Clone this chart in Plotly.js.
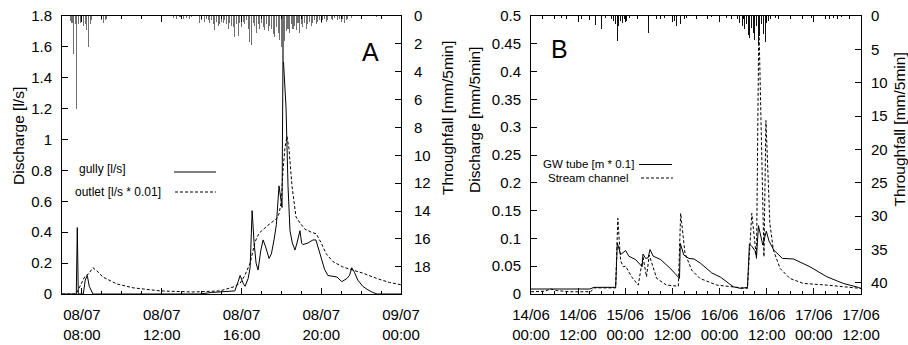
<!DOCTYPE html>
<html>
<head>
<meta charset="utf-8">
<script src="https://cdn.plot.ly/plotly-3.0.1.min.js"></script>
<style>html,body{margin:0;padding:0;background:#fff;}#chart{width:908px;height:345px;}</style>
</head>
<body>
<div id="chart"></div>
<script>
// ---------- Panel A (08/07 – 09/07) ----------
const aGullyTime = ["07:00","07:43","07:46","07:49","08:04","08:10","08:16","08:22","08:33","13:55","14:30","15:00","15:20","15:40","15:50","15:56","16:05","16:11","16:20","16:26","16:29","16:32","16:38","16:44","16:50","16:58","17:05","17:12","17:23","17:30","17:38","17:45","17:53","17:57","18:02","18:05","18:09","18:14","18:20","18:26","18:33","18:41","18:47","18:56","19:01","19:05","19:20","19:35","19:44","19:53","20:02","20:10","20:20","20:35","20:47","21:02","21:17","21:25","21:32","21:40","21:50","22:05","22:18","22:35","22:48","24:00"];
const aGullyQ = [0,0,0.43,0,0,0.09,0.12,0.05,0,0,0.01,0.015,0.02,0.02,0.08,0.12,0.07,0.05,0.10,0.17,0.35,0.54,0.33,0.20,0.155,0.28,0.35,0.31,0.23,0.26,0.35,0.45,0.70,0.62,0.56,1.56,1.40,1.21,0.70,0.41,0.33,0.285,0.33,0.41,0.33,0.32,0.33,0.35,0.35,0.28,0.22,0.16,0.12,0.115,0.11,0.08,0.10,0.12,0.17,0.14,0.09,0.05,0.03,0.01,0,0];

const aOutletTime = ["07:00","07:36","07:45","07:54","08:09","08:20","08:33","08:45","09:03","09:45","10:34","11:55","13:34","14:55","15:35","15:56","16:10","16:26","16:40","16:47","16:56","17:17","17:35","17:47","17:53","18:00","18:05","18:11","18:17","18:23","18:32","18:44","18:56","19:11","19:30","19:45","20:00","20:15","20:35","21:05","21:35","22:05","22:48","23:25","24:00"];
const aOutletQ = [0,0,0.01,0.05,0.115,0.13,0.17,0.15,0.11,0.065,0.04,0.02,0.013,0.02,0.045,0.07,0.12,0.20,0.33,0.37,0.40,0.44,0.47,0.49,0.52,0.60,0.80,0.95,1.02,0.94,0.70,0.50,0.46,0.42,0.40,0.39,0.33,0.26,0.21,0.175,0.155,0.135,0.10,0.075,0.06];

const aRainTime = ["07:25","07:30","07:35","07:40","07:45","07:50","07:55","08:00","08:05","08:10","08:15","08:20","08:25","08:30",
  "09:00","09:05","09:10","09:15","10:00","11:00","12:00","12:35","12:45","12:55","13:05","13:15","13:25","13:30",
  "13:55","14:00","14:10","14:15","14:20","14:25","14:30","14:35","14:40","14:45","14:50","14:55","15:00","15:05","15:10","15:15","15:20","15:25","15:30",
  "15:35","15:40","15:45","15:50","15:55","16:00","16:05","16:10","16:15","16:20","16:25","16:30","16:35",
  "16:40","16:45","16:50","16:55","17:00","17:05","17:10","17:15","17:20","17:25","17:30","17:35","17:40","17:45","17:50",
  "17:55","18:00","18:05","18:10","18:15","18:20","18:25","18:30","18:35","18:40","18:45","18:50","18:55","19:00","19:05","19:10","19:15","19:20","19:25","19:30","19:35","19:40","19:45","19:50","19:55",
  "20:00","20:05","20:10","20:15","20:20","20:30","20:35","20:40","20:50","20:55","21:00","21:05","21:10","21:15","21:20","21:30","22:00","22:45"];
const aRainMm = [0.35,0.5,2.7,0.6,6.7,0.6,0.5,0.3,0.7,0.6,1.0,2.2,0.6,0.3,
  0.3,0.5,0.3,0.2,0.2,0.15,0.3,0.15,0.2,0.1,0.25,0.15,0.2,0.1,
  0.5,0.3,0.4,0.2,0.3,0.5,0.3,0.6,1.0,0.4,0.7,0.6,0.4,0.5,0.3,0.6,0.9,0.5,0.7,
  0.8,1.5,0.6,1.4,0.5,0.8,0.4,0.6,0.3,0.9,1.9,2.1,0.5,
  0.7,1.2,0.6,0.9,0.5,0.8,1.0,0.6,1.1,0.7,0.9,1.3,1.5,0.8,1.2,
  1.7,2.2,3.3,1.8,1.1,0.9,1.2,0.6,0.9,0.7,1.0,0.5,1.2,0.6,0.8,0.5,0.9,0.6,0.4,0.7,0.5,0.3,0.6,0.4,0.3,
  0.5,0.3,0.2,0.4,0.3,0.2,0.3,0.15,0.3,0.2,0.4,0.2,0.5,0.3,0.2,0.15,0.1,0.1];

// ---------- Panel B (14/06 – 17/06) ----------
const bGwTime = ["14 00:00","14 15:00","14 16:00","14 21:33","14 21:58","14 22:48","15 00:06","15 00:54","15 02:36","15 04:18","15 04:30","15 05:12","15 05:48","15 06:18","15 07:06","15 09:00","15 11:36","15 13:48","15 14:00","15 14:54","15 16:12","15 17:30","15 19:12","15 22:00","16 00:18","16 03:30","16 05:24","16 07:06","16 07:36","16 08:18","16 09:00","16 09:24","16 09:54","16 10:30","16 11:00","16 11:54","16 12:36","16 13:48","16 16:00","16 18:48","16 23:00","17 03:18","17 07:30","17 11:18","17 12:00"];
const bGwVal = [0.009,0.009,0.012,0.012,0.092,0.071,0.078,0.068,0.062,0.049,0.072,0.064,0.065,0.080,0.068,0.062,0.045,0.028,0.091,0.070,0.064,0.063,0.055,0.038,0.030,0.013,0.010,0.012,0.090,0.085,0.078,0.067,0.123,0.100,0.088,0.113,0.095,0.079,0.064,0.063,0.049,0.031,0.019,0.012,0.010];

const bStreamTime = ["14 00:00","14 03:30","14 05:00","14 06:42","14 10:00","14 15:12","14 16:00","14 21:33","14 22:06","14 22:48","14 23:30","15 00:06","15 01:36","15 03:18","15 04:30","15 05:24","15 06:06","15 08:00","15 10:30","15 13:30","15 14:06","15 15:12","15 16:54","15 19:00","15 23:18","16 05:12","16 07:06","16 08:12","16 08:48","16 09:24","16 10:00","16 10:36","16 11:18","16 11:48","16 12:48","16 13:42","16 15:24","16 17:54","16 21:18","17 03:18","17 12:00"];
const bStreamVal = [0.004,0.005,0.009,0.006,0.004,0.004,0.011,0.011,0.136,0.060,0.049,0.050,0.031,0.016,0.067,0.031,0.070,0.028,0.016,0.014,0.145,0.073,0.043,0.028,0.016,0.012,0.010,0.145,0.105,0.064,0.490,0.300,0.067,0.312,0.127,0.079,0.046,0.028,0.019,0.016,0.010];

const bRainTime = ["14 04:05","14 07:50","14 12:50","14 13:30","14 14:30","14 15:00","14 16:20","14 17:55","14 19:00","14 20:30","14 21:00","14 21:30","14 21:55","14 22:20","14 22:50","14 23:20","14 23:50","15 00:20","15 01:00","15 04:00","15 05:55","15 07:50","15 10:00","15 12:35","15 13:00","15 13:25","15 13:40","15 14:05","15 15:30","15 18:30","15 22:00","16 01:40","16 04:30","16 05:10","16 05:50","16 06:20","16 06:50","16 07:20","16 07:40","16 08:10","16 08:35","16 09:00","16 09:25","16 09:50","16 10:10","16 10:40","16 11:10","16 11:35","16 12:00","16 12:30","16 13:00","16 14:20","16 18:00","16 23:30","17 02:50","17 04:00","17 05:00","17 07:00"];
const bRainMm = [2.5,0.3,0.5,0.8,1.3,0.6,1.3,2.0,0.3,0.5,0.8,1.2,3.7,1.5,0.8,1.0,0.5,0.7,0.3,3.8,2.5,0.4,0.3,0.8,1.5,2.9,2.2,1.2,0.3,0.2,0.2,0.3,0.5,1.0,1.5,2.0,1.2,2.8,3.3,1.8,2.5,3.6,1.5,4.4,3.0,1.2,2.7,3.9,1.0,0.8,0.5,0.3,0.3,0.3,0.4,0.5,0.3,0.2];

const dA = t => t === "24:00" ? "2007-07-09 00:00" : "2007-07-08 " + t;
const dB = t => "2007-06-" + t;

const FONT = "Liberation Sans, Arial, Helvetica, sans-serif";
const W = 908, H = 345;
const px = x => x / W;
const py = y => (H - y) / H;

const traces = [
  {type:"bar", x:aRainTime.map(dA), y:aRainMm, xaxis:"x", yaxis:"y2",
   width:190000, marker:{color:"#6f6f6f", line:{width:0}}},
  {type:"scatter", mode:"lines", x:aGullyTime.map(dA), y:aGullyQ, xaxis:"x", yaxis:"y",
   line:{color:"#000", width:1}},
  {type:"scatter", mode:"lines", x:aOutletTime.map(dA), y:aOutletQ, xaxis:"x", yaxis:"y",
   line:{color:"#000", width:1, dash:"3px,2px"}},
  {type:"bar", x:bRainTime.map(dB), y:bRainMm, xaxis:"x2", yaxis:"y4",
   width:800000, marker:{color:"#111", line:{width:0}}},
  {type:"scatter", mode:"lines", x:bGwTime.map(dB), y:bGwVal, xaxis:"x2", yaxis:"y3",
   line:{color:"#000", width:1}},
  {type:"scatter", mode:"lines", x:bStreamTime.map(dB), y:bStreamVal, xaxis:"x2", yaxis:"y3",
   line:{color:"#000", width:1, dash:"3px,2px"}}
];

const yDom = [py(294), py(16)];
const common = {showgrid:false, zeroline:false, showline:true, linecolor:"#000", linewidth:1,
  ticks:"inside", ticklen:6, tickwidth:1, tickcolor:"#000",
  tickfont:{family:FONT, size:15, color:"#000"}};

function ann(text, x, y, size, angle) {
  return {text:text, x:px(x), y:py(y), xref:"paper", yref:"paper", xanchor:"center", yanchor:"middle",
    textangle:angle || 0, showarrow:false, font:{family:FONT, size:size, color:"#000"}};
}

const layout = {
  width:W, height:H, margin:{l:0,r:0,t:0,b:0,pad:0},
  paper_bgcolor:"#fff", plot_bgcolor:"rgba(0,0,0,0)",
  showlegend:false, bargap:0,
  font:{family:FONT, size:15, color:"#000"},
  xaxis: Object.assign({}, common, {domain:[px(62), px(401)], anchor:"y", type:"date",
    range:["2007-07-08 07:00","2007-07-09 00:00"], tick0:"2007-07-08 08:00", dtick:14400000,
    tickformat:"%d/%m<br>%H:%M", mirror:"ticks", ticklabelstandoff:7,
    minor:{dtick:3600000, tick0:"2007-07-08 08:00", ticks:"inside", ticklen:3, tickcolor:"#000", showgrid:false}}),
  yaxis: Object.assign({}, common, {domain:yDom, anchor:"x", range:[0,1.8], dtick:0.2, mirror:true, ticklabelstandoff:6}),
  yaxis2: Object.assign({}, common, {overlaying:"y", side:"right", anchor:"x", range:[19.95,0], dtick:2, ticklabelstandoff:9}),
  xaxis2: Object.assign({}, common, {domain:[px(531), px(861)], anchor:"y3", type:"date",
    range:["2007-06-14 00:00","2007-06-17 12:00"], tick0:"2007-06-14 00:00", dtick:43200000,
    tickformat:"%d/%m<br>%H:%M", mirror:"ticks", ticklabelstandoff:7,
    minor:{dtick:10800000, tick0:"2007-06-14 00:00", ticks:"inside", ticklen:3, tickcolor:"#000", showgrid:false}}),
  yaxis3: Object.assign({}, common, {domain:yDom, anchor:"x2", range:[0,0.5], dtick:0.05, mirror:true, ticklabelstandoff:6}),
  yaxis4: Object.assign({}, common, {overlaying:"y3", side:"right", anchor:"x2", range:[41.7,0], dtick:5, ticklabelstandoff:6}),
  annotations:[
    ann("Discharge [l/s]", 18, 136, 15.5, -90),
    ann("Throughfall [mm/5min]", 447, 118, 15.5, -90),
    ann("Discharge [mm/5min]", 474, 120, 15.5, -90),
    ann("Throughfall [mm/5min]", 898.5, 130, 15.5, -90),
    ann("A", 370, 52, 25),
    ann("B", 559, 49, 25),
    ann("gully [l/s]", 102.5, 169, 12),
    ann("outlet [l/s * 0.01]", 118.5, 192, 12),
    ann("GW tube [m * 0.1]", 588.5, 164, 11.5),
    ann("Stream channel", 588, 178, 11.5)
  ],
  shapes:[
    {type:"line", xref:"paper", yref:"paper", x0:px(174), x1:px(216), y0:py(172), y1:py(172), line:{color:"#000", width:1}},
    {type:"line", xref:"paper", yref:"paper", x0:px(175), x1:px(216), y0:py(192), y1:py(192), line:{color:"#000", width:1, dash:"3px,2px"}},
    {type:"line", xref:"paper", yref:"paper", x0:px(639), x1:px(672), y0:py(164.5), y1:py(164.5), line:{color:"#000", width:1}},
    {type:"line", xref:"paper", yref:"paper", x0:px(641), x1:px(673), y0:py(178), y1:py(178), line:{color:"#000", width:1, dash:"3px,2px"}}
  ]
};

Plotly.newPlot("chart", traces, layout, {displayModeBar:false, staticPlot:true});
</script>
</body>
</html>
